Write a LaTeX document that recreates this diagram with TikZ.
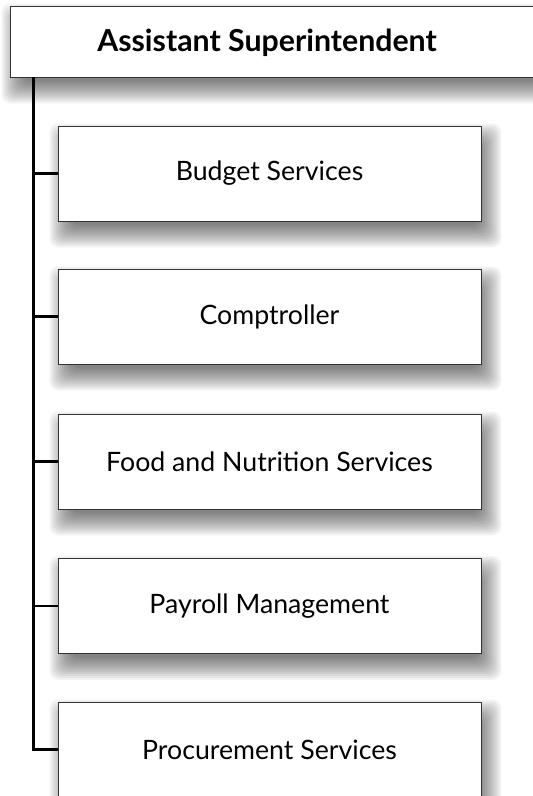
\documentclass[tikz,border=0pt]{standalone}
\usepackage{fontspec}
\setmainfont{Lato}
\usetikzlibrary{calc}
\pgfdeclarelayer{background}
\pgfsetlayers{background,main}
\begin{document}
\begin{tikzpicture}[x=1pt,y=1pt,
  unitbox/.style={draw=black!80,line width=0.9pt,fill=white,minimum width=423pt,minimum height=95pt,font=\fontsize{26.7}{31}\selectfont},
  headbox/.style={draw=black!80,line width=0.9pt,fill=white,minimum width=540pt,minimum height=71pt},
  headtext/.style={font=\fontsize{30.3}{36}\selectfont\bfseries},
  shadowlayer/.style={fill=black,opacity=0.05,rounded corners=9pt},
  link/.style={draw=black,line width=2.3pt}]
\useasboundingbox (0,0) rectangle (533,-796);
\node[headbox] (top) at (280,-41.5) {};
\node[headtext] (toptext) at (267,-42.5) {Assistant Superintendent};
\coordinate (trunk) at (33.5,-77);
\node[unitbox] (b1) at (269.5,-173.5) {Budget Services};
\node[unitbox] (b2) at (269.5,-316.5) {Comptroller};
\node[unitbox] (b3) at (269.5,-461.5) {Food and Nutrition Services};
\node[unitbox] (b4) at (269.5,-606) {Payroll Management};
\node[unitbox] (b5) at (269.5,-749.5) {Procurement Services};
\foreach \b in {b1,b2,b3,b4,b5}{
  \draw[link] (trunk) |- (\b.west);
}
\begin{pgfonlayer}{background}
\fill[white] (0,0) rectangle (533,-796);
\foreach \b in {top,b1,b2,b3,b4,b5}{
  \foreach \e in {-8,-6,...,14}{
    \fill[shadowlayer] ($(\b.south west)+(6-\e,-12-\e)$) rectangle ($(\b.north east)+(6+\e,-12+\e)$);
  }
}
\end{pgfonlayer}
\end{tikzpicture}
\end{document}
